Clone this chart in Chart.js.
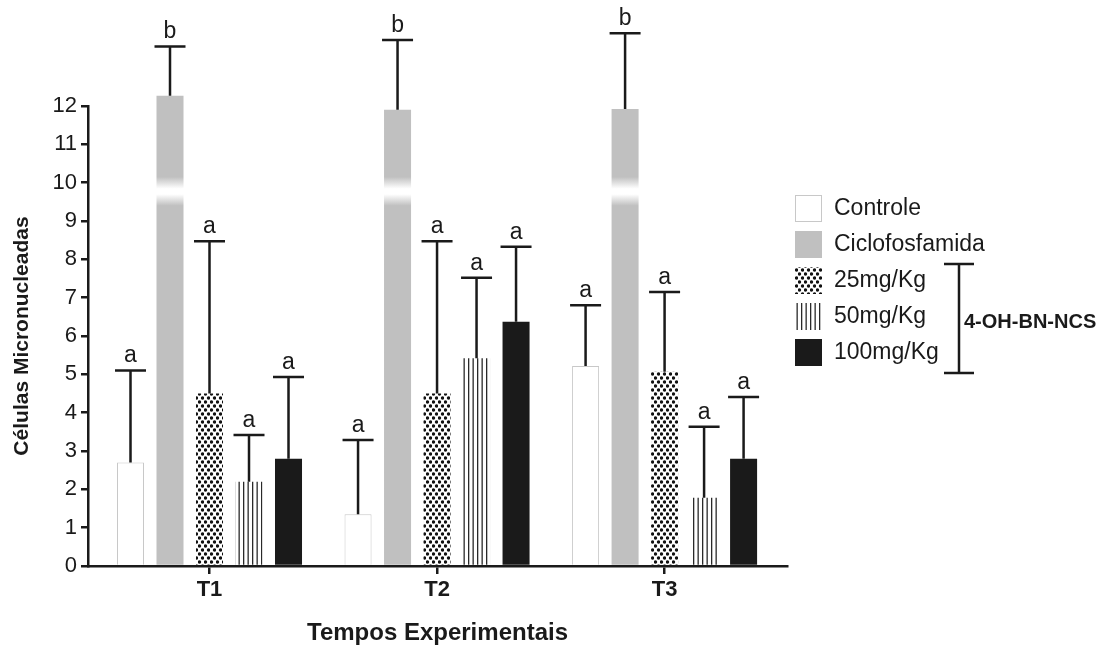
<!DOCTYPE html>
<html>
<head>
<meta charset="utf-8">
<script src="https://cdn.jsdelivr.net/npm/chart.js@4.4.1/dist/chart.umd.min.js"></script>
<style>
  html, body { margin: 0; padding: 0; background: #fff; }
</style>
</head>
<body>
<canvas id="chart" width="1118" height="650"></canvas>
<script>
// dados (média e desvio, só o lado de cima é desenhado)
const tempos = ['T1', 'T2', 'T3'];
const grupos = ['Controle', 'Ciclofosfamida', '25mg/Kg', '50mg/Kg', '100mg/Kg'];
const controle = [2.7, 1.35, 5.22];
const controleSD = [2.4, 1.94, 1.58];
const ciclofosfamida = [12.27, 11.9, 11.92];
const ciclofosfamidaSD = [1.28, 1.82, 1.98];
const dose25 = [4.5, 4.5, 5.07];
const dose25SD = [3.97, 3.97, 2.08];
const dose50 = [2.2, 5.42, 1.78];
const dose50SD = [1.22, 2.1, 1.85];
const dose100 = [2.8, 6.37, 2.8];
const dose100SD = [2.13, 1.96, 1.61];
const letras = ['a', 'b', 'a', 'a', 'a'];
const yTicks = [0, 1, 2, 3, 4, 5, 6, 7, 8, 9, 10, 11, 12];

const INK = '#1a1a1a';
const CINZA = '#c0c0c0';
const FONTE = '"Liberation Sans", Arial, sans-serif';

function padraoPontos() {
    const c = document.createElement('canvas');
    c.width = 6; c.height = 8;
    const g = c.getContext('2d');
    g.fillStyle = '#fff';
    g.fillRect(0, 0, 6, 8);
    g.fillStyle = '#111';
    [[1.5, 2], [4.5, 6]].forEach(([x, y]) => {
        g.beginPath();
        g.arc(x, y, 1.7, 0, Math.PI * 2);
        g.fill();
    });
    return g.createPattern(c, 'repeat');
}

function padraoListras() {
    const c = document.createElement('canvas');
    c.width = 9; c.height = 4;
    const g = c.getContext('2d');
    g.fillStyle = '#fff';
    g.fillRect(0, 0, 9, 4);
    g.fillStyle = '#2a2a2a';
    g.fillRect(0, 0, 1.3, 4);
    g.fillRect(4.5, 0, 1.3, 4);
    return g.createPattern(c, 'repeat');
}

const pontos = padraoPontos();
const listras = padraoListras();

// faixa branca de quebra do eixo nas barras de ciclofosfamida
function cicloFill(context) {
    const chart = context.chart;
    const ys = chart.scales.y;
    if (!chart.chartArea || !ys) return CINZA;
    const y1 = ys.getPixelForValue(10.15);
    const y2 = ys.getPixelForValue(9.4);
    const g = chart.ctx.createLinearGradient(0, y1, 0, y2);
    g.addColorStop(0, CINZA);
    g.addColorStop(0.41, '#ffffff');
    g.addColorStop(0.6, '#ffffff');
    g.addColorStop(1, CINZA);
    return g;
}

const series = [controle, ciclofosfamida, dose25, dose50, dose100];
const desvios = [controleSD, ciclofosfamidaSD, dose25SD, dose50SD, dose100SD];
const fundos = ['#ffffff', cicloFill, pontos, listras, INK];
const fundosLegenda = ['#ffffff', CINZA, pontos, listras, INK];
const bordas = ['#c8c8c8', CINZA, '#e0e0e0', '#e0e0e0', INK];
const bordaLarg = [1, 0, 0, 0, 0];

const errorBars = {
    id: 'errorBars',
    afterDatasetsDraw(chart) {
        const ctx = chart.ctx;
        const ys = chart.scales.y;
        ctx.save();
        ctx.strokeStyle = INK;
        ctx.lineWidth = 2.5;
        ctx.fillStyle = INK;
        ctx.font = '23px ' + FONTE;
        ctx.textAlign = 'center';
        ctx.textBaseline = 'bottom';
        chart.data.datasets.forEach((ds, di) => {
            const meta = chart.getDatasetMeta(di);
            meta.data.forEach((bar, i) => {
                const topo = ys.getPixelForValue(ds.data[i] + desvios[di][i]);
                ctx.beginPath();
                ctx.moveTo(bar.x, bar.y);
                ctx.lineTo(bar.x, topo);
                ctx.moveTo(bar.x - 15.5, topo);
                ctx.lineTo(bar.x + 15.5, topo);
                ctx.stroke();
                ctx.fillText(letras[di], bar.x, topo - 3);
            });
        });
        ctx.restore();
    }
};

const legenda = {
    id: 'legenda',
    afterDraw(chart) {
        const ctx = chart.ctx;
        const x0 = chart.chartArea.right + 8;
        const tops = [195, 231, 267, 303, 339];
        ctx.save();
        ctx.font = '23px ' + FONTE;
        ctx.textBaseline = 'middle';
        ctx.textAlign = 'left';
        grupos.forEach((nome, i) => {
            ctx.fillStyle = fundosLegenda[i];
            ctx.fillRect(x0, tops[i], 27, 27);
            if (i === 0) {
                ctx.strokeStyle = '#c8c8c8';
                ctx.lineWidth = 1;
                ctx.strokeRect(x0 + 0.5, tops[i] + 0.5, 26, 26);
            }
            ctx.fillStyle = INK;
            ctx.fillText(nome, x0 + 39, tops[i] + 14);
        });
        // chave do composto
        const bx = x0 + 164;
        ctx.strokeStyle = INK;
        ctx.lineWidth = 2.5;
        ctx.beginPath();
        ctx.moveTo(bx, 264); ctx.lineTo(bx, 373);
        ctx.moveTo(bx - 15, 264); ctx.lineTo(bx + 15, 264);
        ctx.moveTo(bx - 15, 373); ctx.lineTo(bx + 15, 373);
        ctx.stroke();
        ctx.font = 'bold 20px ' + FONTE;
        ctx.fillText('4-OH-BN-NCS', bx + 5, 322);
        ctx.restore();
    }
};

new Chart(document.getElementById('chart'), {
    type: 'bar',
    data: {
        labels: tempos,
        datasets: series.map((d, i) => ({
            label: grupos[i],
            data: d,
            backgroundColor: fundos[i],
            borderColor: bordas[i],
            borderWidth: bordaLarg[i],
            borderSkipped: 'bottom',
            clip: false,
            categoryPercentage: 0.868,
            barPercentage: 0.684,
        })),
    },
    options: {
        responsive: false,
        animation: false,
        events: [],
        layout: { padding: { top: 106, right: 331, left: 0, bottom: 0 } },
        plugins: { legend: { display: false }, tooltip: { enabled: false } },
        scales: {
            x: {
                afterFit: (s) => { s.height = 84; },
                // grupos um pouco mais juntos que o padrão, como no original
                afterBuildTicks: (s) => { s._startValue = -0.534; s._valueRange = 3.072; },
                grid: { display: true, drawOnChartArea: false, offset: false, tickLength: 8, color: INK, lineWidth: 2.5 },
                border: { display: true, color: INK, width: 2.5 },
                ticks: { color: INK, padding: 3, font: { family: FONTE, size: 22, weight: 'bold' } },
                title: { display: true, text: 'Tempos Experimentais', color: INK, padding: { top: 0, bottom: 2 },
                         font: { family: FONTE, size: 24, weight: 'bold' } },
            },
            y: {
                min: 0,
                max: 12,
                afterFit: (s) => { s.width = 88; },
                afterBuildTicks: (s) => { s.ticks = yTicks.map((v) => ({ value: v })); },
                grid: { display: true, drawOnChartArea: false, tickLength: 7, color: INK, lineWidth: 2.5 },
                border: { display: true, color: INK, width: 2.5 },
                ticks: { color: INK, padding: 4, font: { family: FONTE, size: 22 } },
                title: { display: true, text: 'Células Micronucleadas', color: INK, padding: { top: 10, bottom: 0 },
                         font: { family: FONTE, size: 21, weight: 'bold' } },
            },
        },
    },
    plugins: [errorBars, legenda],
});
</script>
</body>
</html>
